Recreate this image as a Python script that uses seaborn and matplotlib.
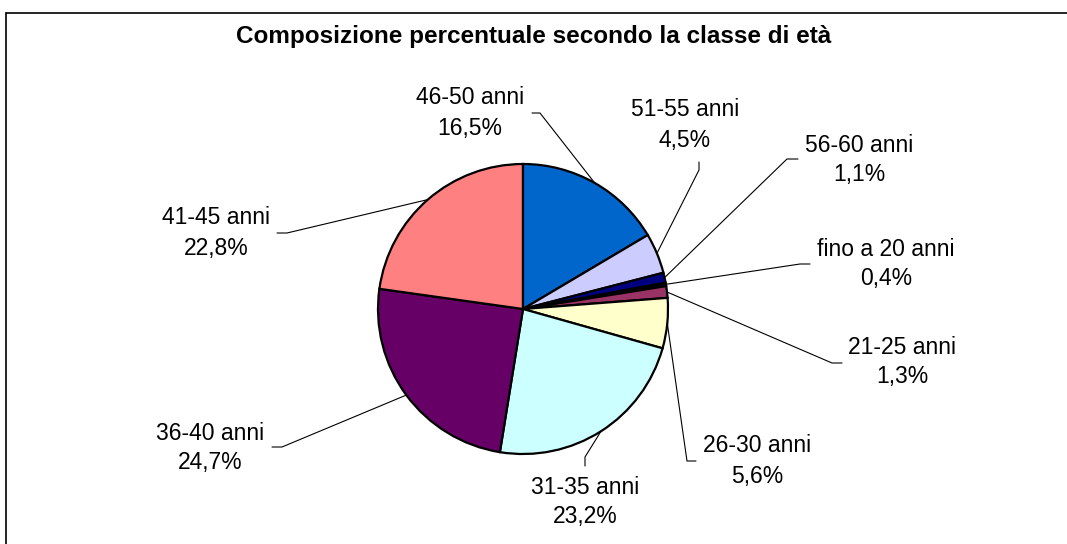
import matplotlib.pyplot as plt
import seaborn as sns
import numpy as np

# -----------------------------
# Dati
# -----------------------------
classi = ["fino a 20 anni", "21-25 anni", "26-30 anni", "31-35 anni", "36-40 anni",
          "41-45 anni", "46-50 anni", "51-55 anni", "56-60 anni"]
percentuali = [0.4, 1.3, 5.6, 23.2, 24.7, 22.8, 16.5, 4.5, 1.1]
colori = ["#000000", "#993366", "#FFFFCC", "#CCFFFF", "#660066",
          "#FF8080", "#0066CC", "#CCCCFF", "#000080"]
titolo = "Composizione percentuale secondo la classe di età"

# -----------------------------
# Layout (pixel, y verso il basso): centro testo, punti della linea guida
# -----------------------------
W, H = 1067, 544
centro = (523, H - 309)
raggio = 145
pos_etichette = {
    "fino a 20 anni": ((886, 264), [(800, 264), (810, 264)]),
    "21-25 anni": ((902, 362), [(832, 363), (842, 363)]),
    "26-30 anni": ((757, 461), [(687, 461), (696, 461)]),
    "31-35 anni": ((585, 502), [(585, 457), (585, 466)]),
    "36-40 anni": ((210, 448), [(282, 447), (272, 447)]),
    "41-45 anni": ((216, 233), [(287, 233), (277, 233)]),
    "46-50 anni": ((470, 113), [(540, 113), (532, 113)]),
    "51-55 anni": ((685, 125), [(699, 170), (699, 162)]),
    "56-60 anni": ((859, 160), [(787, 159), (798, 159)]),
}

sns.set_style("white")
plt.rcParams['font.family'] = ['Liberation Sans', 'DejaVu Sans']
plt.rcParams['text.color'] = 'black'

fig = plt.figure(figsize=(W / 100, H / 100), dpi=100)
ax = fig.add_axes([0, 0, 1, 1])

# la fetta "46-50 anni" parte da ore 12, in senso orario
totale = sum(percentuali)
inizio = 90 + 360 * sum(percentuali[:6]) / totale
wedges, _ = ax.pie(percentuali, colors=sns.color_palette(colori), startangle=inizio,
                   counterclock=False, center=centro, radius=raggio,
                   wedgeprops=dict(edgecolor='black', linewidth=1.6))

for w, nome, val in zip(wedges, classi, percentuali):
    mid = np.deg2rad((w.theta1 + w.theta2) / 2)
    bordo = (centro[0] + raggio * np.cos(mid), centro[1] + raggio * np.sin(mid))
    (tx, ty), punti = pos_etichette[nome]
    xs = [bordo[0]] + [p[0] for p in punti]
    ys = [bordo[1]] + [H - p[1] for p in punti]
    ax.plot(xs, ys, color='black', lw=0.8)
    ax.text(tx, H - ty + 15, nome, ha='center', va='center', fontsize=16.5, color='black')
    ax.text(tx, H - ty - 15, f"{val:.1f}".replace(".", ",") + "%",
            ha='center', va='center', fontsize=16.5, color='black')

ax.text(534, H - 37, titolo, ha='center', va='center', fontsize=17.5,
        fontweight='bold', color='black')

# cornice (visibili solo i lati superiore e sinistro)
ax.plot([5.5, W], [H - 12.5, H - 12.5], color='black', lw=1.2)
ax.plot([5.5, 5.5], [H - 12.5, 0], color='black', lw=1.2)

ax.set_xlim(0, W)
ax.set_ylim(0, H)
ax.set_aspect('equal')
ax.axis('off')

fig.savefig('out.png', dpi=100)
